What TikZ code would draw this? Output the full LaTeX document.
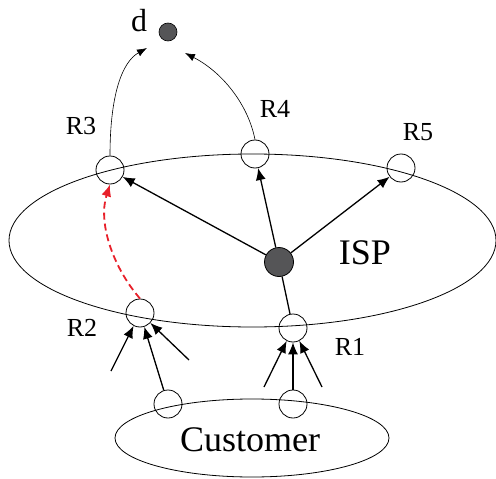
\documentclass[tikz,border=0pt]{standalone}
\usepackage{fontspec}
\setmainfont{Liberation Serif}
\usetikzlibrary{arrows.meta}
\definecolor{hubgray}{HTML}{555557}
\definecolor{dashred}{HTML}{E8202A}
\tikzset{
  router/.style={circle, draw, line width=0.8pt, minimum size=28pt, inner sep=0pt},
  hub/.style={circle, draw, line width=0.8pt, fill=hubgray, minimum size=29pt, inner sep=0pt},
  dest/.style={circle, draw, line width=0.6pt, fill=hubgray, minimum size=18pt, inner sep=0pt},
  rlabel/.style={font=\fontsize{26}{28}\selectfont, inner sep=0pt},
  dlabel/.style={font=\fontsize{32}{34}\selectfont, inner sep=0pt},
  biglabel/.style={font=\fontsize{36}{40}\selectfont, inner sep=0pt},
  flow/.style={line width=1.3pt, -{Latex[length=12pt,width=10pt]}},
  route/.style={line width=0.6pt, -{Latex[length=10pt,width=7.5pt]}},
  detour/.style={line width=1.8pt, dashred, dash pattern=on 7pt off 4pt, -{Latex[length=12pt,width=10pt]}},
  region/.style={line width=0.8pt}
}
\begin{document}
\begin{tikzpicture}[x=1pt, y=-1pt]
\useasboundingbox (0,0) rectangle (496,479);

% domains
\draw[region] (252.5,240.5) ellipse [x radius=243.5, y radius=86.5];
\draw[region] (252,438) ellipse [x radius=137, y radius=39];

% routers
\node[router] (R3) at (110,170) {};
\node[router] (R4) at (255,154) {};
\node[router] (R5) at (401,168) {};
\node[router] (R2) at (140,313) {};
\node[router] (R1) at (293,328) {};
\node[router] (C1) at (168,404) {};
\node[router] (C2) at (293,404) {};
\node[hub] (H) at (279,262) {};
\node[dest] (D) at (168,32) {};

% labels
\node[dlabel] (dl) at (139,21) {d};
\node[rlabel] (l3) at (81,126) {R3};
\node[rlabel] (l4) at (275,109) {R4};
\node[rlabel] (l5) at (418,132) {R5};
\node[rlabel] (l2) at (82,328) {R2};
\node[rlabel] (l1) at (350,347) {R1};
\node[biglabel] (isp) at (365,253) {ISP};
\node[biglabel] (cust) at (250,440) {Customer};

% paths inside the ISP
\draw[flow] (H) -- (R3);
\draw[flow] (H) -- (R4);
\draw[flow] (H) -- (R5);
\draw[line width=1.3pt] (R1) -- (H);

% routes towards d
\draw[route] (R3.north) .. controls (110,95) and (122,62) .. (147,48);
\draw[route] (R4.north) .. controls (248,104) and (222,72) .. (185,53);

% detour from R2 to R3
\draw[detour] (R2.north) .. controls (112,266) and (98,222) .. (R3.south);

% incoming traffic
\coordinate (a1) at (111,371);
\coordinate (a2) at (189,360);
\coordinate (b1) at (264,387);
\coordinate (b2) at (322,387);
\draw[flow] (a1) -- (R2);
\draw[flow] (C1) -- (R2);
\draw[flow] (a2) -- (R2);
\draw[flow] (b1) -- (R1);
\draw[flow] (C2) -- (R1);
\draw[flow] (b2) -- (R1);
\end{tikzpicture}
\end{document}
